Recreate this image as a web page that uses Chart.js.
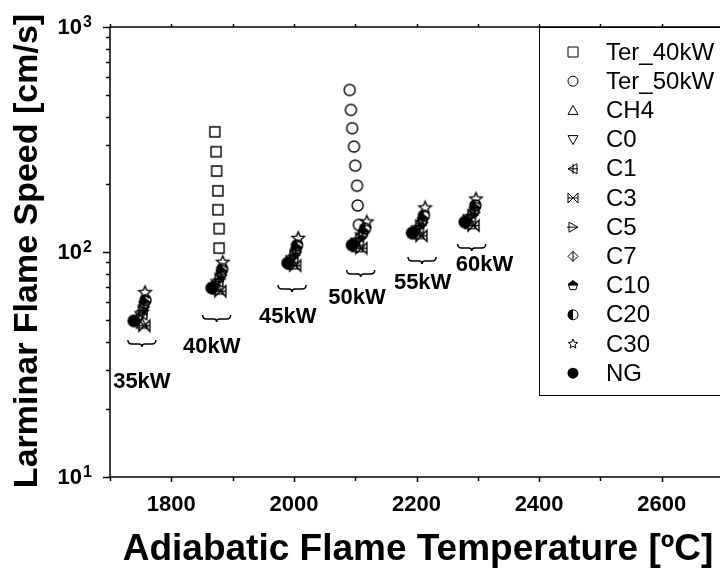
<!DOCTYPE html>
<html lang="en">
<head>
    <meta charset="UTF-8">
    <title>Laminar Flame Speed vs Adiabatic Flame Temperature</title>
    <script src="https://cdn.jsdelivr.net/npm/chart.js"></script>
</head>
<style>
    html, body {
        margin: 0;
        padding: 0;
        background: #fff;
        overflow: hidden;
    }
    #flameChart {
        display: block;
    }
</style>
<body>
<canvas id="flameChart" width="730" height="571"></canvas>

<script>
    // ---- data ----
    var powers = ['35kW', '40kW', '45kW', '50kW', '55kW', '60kW'];

    // tertiary mixtures at fixed power
    var terT40 = [1871, 1873, 1874, 1876, 1876, 1878, 1878];
    var terV40 = [342, 279, 229, 187, 154, 127, 104];
    var terT50 = [2091, 2093, 2095, 2098, 2100, 2103, 2104, 2106];
    var terV50 = [525, 428, 355, 294, 242, 197, 161, 132];

    // one value per power level (35..60 kW)
    var tCH4 = [1752, 1876, 1998, 2104, 2203, 2288];
    var vCH4 = [48, 68, 88, 105, 120, 133];
    var tC0  = [1750, 1874, 1996, 2102, 2201, 2285];
    var vC0  = [52, 72, 92, 110, 125, 140];
    var tC1  = [1753, 1877, 1999, 2106, 2204, 2289];
    var vC1  = [53, 74, 94, 112, 128, 143];
    var tC3  = [1756, 1880, 2002, 2110, 2208, 2293];
    var vC3  = [47, 67, 87, 104, 118, 131];
    var tC5  = [1754, 1879, 2001, 2108, 2206, 2291];
    var vC5  = [55, 76, 97, 115, 131, 146];
    var tC7  = [1755, 1881, 2003, 2111, 2209, 2294];
    var vC7  = [57, 79, 100, 119, 135, 150];
    var tC10 = [1756, 1882, 2004, 2113, 2210, 2295];
    var vC10 = [59, 81, 103, 122, 139, 155];
    var tC20 = [1758, 1883, 2005, 2116, 2212, 2296];
    var vC20 = [61, 84, 107, 127, 145, 161];
    var tC30 = [1757, 1884, 2007, 2119, 2214, 2297];
    var vC30 = [66, 90, 115, 136, 157, 172];
    var tNG  = [1739, 1866, 1990, 2095, 2193, 2279];
    var vNG  = [49.4, 69.2, 89.3, 107.4, 121.5, 135.9];

    var xTicks = [1800, 2000, 2200, 2400, 2600];
    var yDecades = [10, 100, 1000];

    // brace + label anchors for each power group (data units)
    var braceT = [1752, 1874, 1997, 2109, 2209, 2290];
    var braceV = [39.4, 50.9, 69.2, 80.7, 92.1, 105.2];
    var labelT = [1752, 1866, 1990, 2103, 2210, 2311];
    var labelV = [26.4, 37.8, 51.4, 62.5, 72.8, 87.5];

    var FONT = "'Liberation Sans', Arial, sans-serif";

    function pairs(xs, ys) {
        var out = [];
        for (var i = 0; i < xs.length; i++) out.push({ x: xs[i], y: ys[i] });
        return out;
    }

    // draws one marker shape centred at (x, y), half size r
    function drawSymbol(ctx, kind, x, y, r, lw) {
        ctx.save();
        ctx.translate(x, y);
        ctx.strokeStyle = '#000';
        ctx.fillStyle = '#000';
        ctx.lineWidth = lw || 1;
        ctx.beginPath();
        switch (kind) {
            case 'square':
                ctx.rect(-r, -r, 2 * r, 2 * r);
                ctx.stroke();
                break;
            case 'circle':
                ctx.arc(0, 0, r, 0, Math.PI * 2);
                ctx.stroke();
                break;
            case 'triUp':
                ctx.moveTo(0, -r); ctx.lineTo(r, r * 0.8); ctx.lineTo(-r, r * 0.8); ctx.closePath();
                ctx.stroke();
                break;
            case 'triDown':
                ctx.moveTo(0, r); ctx.lineTo(r, -r * 0.8); ctx.lineTo(-r, -r * 0.8); ctx.closePath();
                ctx.stroke();
                break;
            case 'triLeftPlus':
                ctx.moveTo(-r, 0); ctx.lineTo(r * 0.8, -r); ctx.lineTo(r * 0.8, r); ctx.closePath();
                ctx.moveTo(0, -r); ctx.lineTo(0, r);
                ctx.moveTo(-r, 0); ctx.lineTo(r, 0);
                ctx.stroke();
                break;
            case 'bowtie':
                ctx.moveTo(-r, -r); ctx.lineTo(r, r); ctx.lineTo(r, -r); ctx.lineTo(-r, r); ctx.closePath();
                ctx.moveTo(-r, 0); ctx.lineTo(r, 0);
                ctx.stroke();
                break;
            case 'triRightLine':
                ctx.moveTo(r, 0); ctx.lineTo(-r * 0.8, -r); ctx.lineTo(-r * 0.8, r); ctx.closePath();
                ctx.moveTo(-r * 1.2, 0); ctx.lineTo(r, 0);
                ctx.stroke();
                break;
            case 'diamondLine':
                ctx.moveTo(0, -r); ctx.lineTo(r, 0); ctx.lineTo(0, r); ctx.lineTo(-r, 0); ctx.closePath();
                ctx.moveTo(0, -r); ctx.lineTo(0, r);
                ctx.stroke();
                break;
            case 'pentaHalf':
                for (var k = 0; k < 5; k++) {
                    var a = -Math.PI / 2 + k * 2 * Math.PI / 5;
                    var px = Math.cos(a) * r, py = Math.sin(a) * r;
                    if (k === 0) ctx.moveTo(px, py); else ctx.lineTo(px, py);
                }
                ctx.closePath();
                ctx.stroke();
                ctx.save();
                ctx.clip();
                ctx.fillRect(-r, -r, 2 * r, r);
                ctx.restore();
                break;
            case 'circleHalf':
                ctx.arc(0, 0, r, 0, Math.PI * 2);
                ctx.stroke();
                ctx.beginPath();
                ctx.arc(0, 0, r, Math.PI / 2, Math.PI * 1.5);
                ctx.closePath();
                ctx.fill();
                break;
            case 'star':
                for (var s = 0; s < 10; s++) {
                    var ang = -Math.PI / 2 + s * Math.PI / 5;
                    var rr = s % 2 === 0 ? r : r * 0.45;
                    var sx = Math.cos(ang) * rr, sy = Math.sin(ang) * rr;
                    if (s === 0) ctx.moveTo(sx, sy); else ctx.lineTo(sx, sy);
                }
                ctx.closePath();
                ctx.fillStyle = '#fff';
                ctx.fill();
                ctx.stroke();
                break;
            case 'dot':
                ctx.arc(0, 0, r, 0, Math.PI * 2);
                ctx.fill();
                break;
        }
        ctx.restore();
    }

    function makeMarker(kind, r) {
        var size = Math.ceil(r * 2 + 4);
        var c = document.createElement('canvas');
        c.width = size;
        c.height = size;
        drawSymbol(c.getContext('2d'), kind, size / 2, size / 2, r, 1.4);
        return c;
    }

    var series = [
        { label: 'Ter_40kW', kind: 'square',       r: 5,   data: pairs(terT40, terV40) },
        { label: 'Ter_50kW', kind: 'circle',       r: 5.5, data: pairs(terT50, terV50) },
        { label: 'CH4',      kind: 'triUp',        r: 5.5, data: pairs(tCH4, vCH4) },
        { label: 'C0',       kind: 'triDown',      r: 5.5, data: pairs(tC0, vC0) },
        { label: 'C1',       kind: 'triLeftPlus',  r: 5.5, data: pairs(tC1, vC1) },
        { label: 'C3',       kind: 'bowtie',       r: 5.5, data: pairs(tC3, vC3) },
        { label: 'C5',       kind: 'triRightLine', r: 5.5, data: pairs(tC5, vC5) },
        { label: 'C7',       kind: 'diamondLine',  r: 5.5, data: pairs(tC7, vC7) },
        { label: 'C10',      kind: 'pentaHalf',    r: 5.5, data: pairs(tC10, vC10) },
        { label: 'C20',      kind: 'circleHalf',   r: 5.5, data: pairs(tC20, vC20) },
        { label: 'C30',      kind: 'star',         r: 6.5, data: pairs(tC30, vC30) },
        { label: 'NG',       kind: 'dot',          r: 6.5, data: pairs(tNG, vNG) }
    ];

    var datasets = series.map(function (s) {
        return {
            label: s.label,
            data: s.data,
            pointStyle: makeMarker(s.kind, s.r),
            pointRadius: s.r,
            showLine: false
        };
    });

    // axes, ticks, titles, group labels and the legend box
    var framePlugin = {
        id: 'frame',
        afterDraw: function (chart) {
            var ctx = chart.ctx;
            var area = chart.chartArea;
            var xs = chart.scales.x, ys = chart.scales.y;
            ctx.save();
            ctx.strokeStyle = '#000';
            ctx.fillStyle = '#000';
            ctx.lineWidth = 1.5;

            // frame
            ctx.beginPath();
            ctx.moveTo(area.left, area.top); ctx.lineTo(area.left, area.bottom);
            ctx.lineTo(area.right, area.bottom);
            ctx.moveTo(area.left, area.top); ctx.lineTo(area.right, area.top);
            ctx.stroke();

            // x ticks every 100, labels every 200
            ctx.beginPath();
            for (var t = 1700; t <= 2700; t += 100) {
                var px = Math.round(xs.getPixelForValue(t)) + 0.5;
                var len = (t % 200 === 0) ? 5 : 4;
                ctx.moveTo(px, area.bottom); ctx.lineTo(px, area.bottom + len);
                ctx.moveTo(px, area.top); ctx.lineTo(px, area.top - 3);
            }
            // y ticks, major at decades, minor in between
            for (var d = 10; d < 1000; d *= 10) {
                for (var m = 1; m <= 10; m++) {
                    var py = Math.round(ys.getPixelForValue(d * m)) + 0.5;
                    var l = (m === 1 || m === 10) ? 7 : 4;
                    ctx.moveTo(area.left - l, py); ctx.lineTo(area.left, py);
                }
            }
            ctx.stroke();

            ctx.font = 'bold 22px ' + FONT;
            ctx.textAlign = 'center';
            ctx.textBaseline = 'alphabetic';
            xTicks.forEach(function (v) {
                ctx.fillText(String(v), xs.getPixelForValue(v), 511);
            });

            yDecades.forEach(function (v) {
                var py = ys.getPixelForValue(v);
                ctx.font = 'bold 22px ' + FONT;
                ctx.textAlign = 'right';
                ctx.textBaseline = 'middle';
                ctx.fillText('10', 82, py + 1);
                ctx.font = 'bold 16px ' + FONT;
                ctx.textAlign = 'left';
                ctx.textBaseline = 'alphabetic';
                ctx.fillText(String(Math.round(Math.log10(v))), 83, py);
            });

            // axis titles
            ctx.font = 'bold 37px ' + FONT;
            ctx.textAlign = 'center';
            ctx.fillText('Adiabatic Flame Temperature [ºC]', 418, 560);
            ctx.save();
            ctx.translate(37, 251);
            ctx.rotate(-Math.PI / 2);
            ctx.font = 'bold 34px ' + FONT;
            ctx.fillText('Larminar Flame Speed [cm/s]', 0, 0);
            ctx.restore();

            // braces and power labels under each group
            ctx.lineWidth = 1.5;
            ctx.font = 'bold 22px ' + FONT;
            ctx.textAlign = 'center';
            ctx.textBaseline = 'middle';
            for (var i = 0; i < powers.length; i++) {
                var cx = xs.getPixelForValue(braceT[i]);
                var cy = ys.getPixelForValue(braceV[i]);
                ctx.beginPath();
                ctx.moveTo(cx - 14, cy - 3);
                ctx.quadraticCurveTo(cx - 14, cy + 1, cx - 10, cy + 1);
                ctx.lineTo(cx - 3, cy + 1);
                ctx.quadraticCurveTo(cx, cy + 1, cx, cy + 4);
                ctx.quadraticCurveTo(cx, cy + 1, cx + 3, cy + 1);
                ctx.lineTo(cx + 10, cy + 1);
                ctx.quadraticCurveTo(cx + 14, cy + 1, cx + 14, cy - 3);
                ctx.stroke();
                ctx.fillText(powers[i], xs.getPixelForValue(labelT[i]), ys.getPixelForValue(labelV[i]));
            }

            // legend box
            var lx = 539, ly = area.top, lh = 368;
            ctx.fillStyle = '#fff';
            ctx.fillRect(lx, ly, 200, lh);
            ctx.strokeStyle = '#000';
            ctx.lineWidth = 1;
            ctx.strokeRect(lx + 0.5, ly + 0.5, 200, lh);
            ctx.fillStyle = '#000';
            ctx.font = '24px ' + FONT;
            ctx.textAlign = 'left';
            ctx.textBaseline = 'middle';
            series.forEach(function (s, j) {
                var rowY = 52 + j * 29.2;
                drawSymbol(ctx, s.kind, 573, rowY, s.kind === 'dot' ? 5.5 : 5, 1);
                ctx.fillText(s.label, 606, rowY + 1);
            });
            ctx.restore();
        }
    };

    var ctx = document.getElementById('flameChart').getContext('2d');
    var chart = new Chart(ctx, {
        type: 'scatter',
        data: { datasets: datasets },
        options: {
            responsive: false,
            animation: false,
            devicePixelRatio: 1,
            layout: {
                autoPadding: false,
                padding: { left: 110, top: 27, right: 7, bottom: 94 }
            },
            plugins: {
                legend: { display: false },
                tooltip: { enabled: false }
            },
            scales: {
                x: { type: 'linear', min: 1700, max: 2700, display: false },
                y: { type: 'logarithmic', min: 10, max: 1000, display: false }
            }
        },
        plugins: [framePlugin]
    });
</script>
</body>
</html>
